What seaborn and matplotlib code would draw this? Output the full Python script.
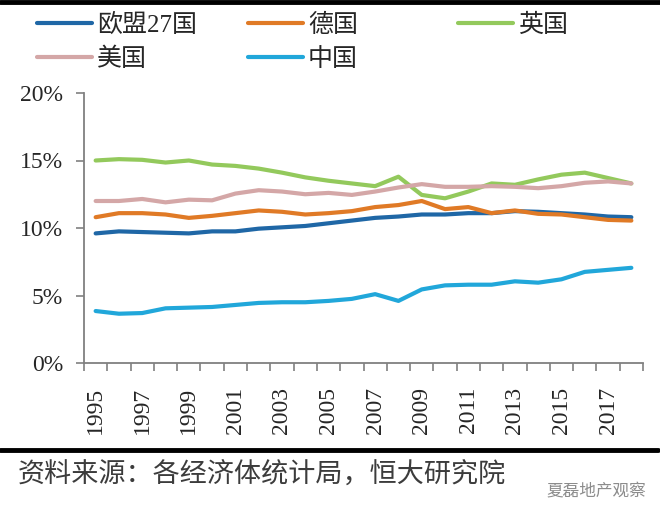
import matplotlib
matplotlib.use("Agg")
import matplotlib.pyplot as plt
from matplotlib.lines import Line2D
import seaborn as sns

# share of healthcare spending, %
years = list(range(1995, 2019))
names = ["欧盟27国", "德国", "英国", "美国", "中国"]
colors = ["#1f67a6", "#e07a26", "#93c95c", "#d4a7a7", "#21a7da"]

eu27 = [9.6, 9.75, 9.7, 9.65, 9.6, 9.75, 9.75, 9.95, 10.05, 10.15, 10.35, 10.55,
        10.75, 10.85, 11.0, 11.0, 11.1, 11.1, 11.25, 11.2, 11.1, 11.0, 10.85, 10.8]
germany = [10.8, 11.1, 11.1, 11.0, 10.75, 10.9, 11.1, 11.3, 11.2, 11.0, 11.1, 11.25,
           11.55, 11.7, 12.0, 11.4, 11.55, 11.1, 11.3, 11.05, 11.0, 10.8, 10.6, 10.55]
uk = [15.0, 15.1, 15.05, 14.85, 15.0, 14.7, 14.6, 14.4, 14.1, 13.75, 13.5, 13.3,
      13.1, 13.8, 12.45, 12.2, 12.7, 13.3, 13.2, 13.6, 13.95, 14.1, 13.7, 13.3]
usa = [12.0, 12.0, 12.15, 11.9, 12.1, 12.05, 12.55, 12.8, 12.7, 12.5, 12.6, 12.45,
       12.7, 13.0, 13.25, 13.05, 13.05, 13.1, 13.05, 12.95, 13.1, 13.35, 13.45, 13.3]
china = [3.85, 3.65, 3.7, 4.05, 4.1, 4.15, 4.3, 4.45, 4.5, 4.5, 4.6, 4.75,
         5.1, 4.6, 5.45, 5.75, 5.8, 5.8, 6.05, 5.95, 6.2, 6.75, 6.9, 7.05]

yticks = [0, 5, 10, 15, 20]
ytick_labels = ["0%", "5%", "10%", "15%", "20%"]

sns.set_style("white")
plt.rcParams["font.family"] = ["Liberation Serif", "Noto Sans CJK SC", "DejaVu Sans"]

W, H = 660, 508
fig = plt.figure(figsize=(W / 100, H / 100), dpi=100)
ax = fig.add_axes([84 / W, 1 - 363 / H, (643 - 84) / W, (363 - 93) / H])

handles = []
for vals, col in zip([eu27, germany, uk, usa, china], colors):
    sns.lineplot(x=years, y=vals, color=col, linewidth=3, ax=ax)
    handles.append(ax.get_lines()[-1])
for h in handles:
    h.set_solid_capstyle("round")
    h.set_solid_joinstyle("round")

ax.set_xlim(1994.5, 2018.5)
ax.set_ylim(0, 20)
ax.set_yticks(yticks)
ax.set_yticklabels(ytick_labels)
ax.set_xticks(years[::2])
ax.set_xticklabels([str(y) for y in years[::2]], rotation=90)
ax.set_xticks([y - 0.5 for y in years] + [years[-1] + 0.5], minor=True)
ax.tick_params(axis="x", which="major", length=0, pad=17, labelsize=17)
ax.tick_params(axis="x", which="minor", length=6, width=1.2, color="#808080",
               direction="out", bottom=True)
ax.tick_params(axis="y", length=6, width=1.2, color="#808080", pad=9,
               labelsize=17, left=True)
for s in ["top", "right"]:
    ax.spines[s].set_visible(False)
for s in ["left", "bottom"]:
    ax.spines[s].set_color("#808080")
    ax.spines[s].set_linewidth(1.3)

# legend laid out like the Excel one: three fixed columns
groups = [[0, 3], [1, 4], [2]]
xs = [37, 248, 458]
for g, x0 in zip(groups, xs):
    fig.legend([handles[i] for i in g], [names[i] for i in g],
               loc="upper left", bbox_to_anchor=(x0 / W, 1 - 14 / H),
               frameon=False, borderpad=0, borderaxespad=0,
               handlelength=2.2, handletextpad=0.2, labelspacing=0.42,
               prop={"family": ["Liberation Serif", "Noto Sans CJK SC"], "size": 18})

fig.add_artist(Line2D([0, 1], [1 - 2 / H] * 2, transform=fig.transFigure,
                      color="black", linewidth=3.5))
fig.add_artist(Line2D([0, 658 / W], [1 - 450 / H] * 2, transform=fig.transFigure,
                      color="black", linewidth=3.5))

fig.text(18 / W, 1 - 474 / H, "资料来源：各经济体统计局，恒大研究院",
         family=["Noto Sans CJK SC"], fontsize=19.5, color="#3c3c3c",
         va="center", ha="left")
fig.text(646 / W, 1 - 491 / H, "夏磊地产观察", family=["Noto Sans CJK SC"],
         fontsize=12, color="#8c8c8c", va="center", ha="right")

fig.savefig("out.png", dpi=100)
